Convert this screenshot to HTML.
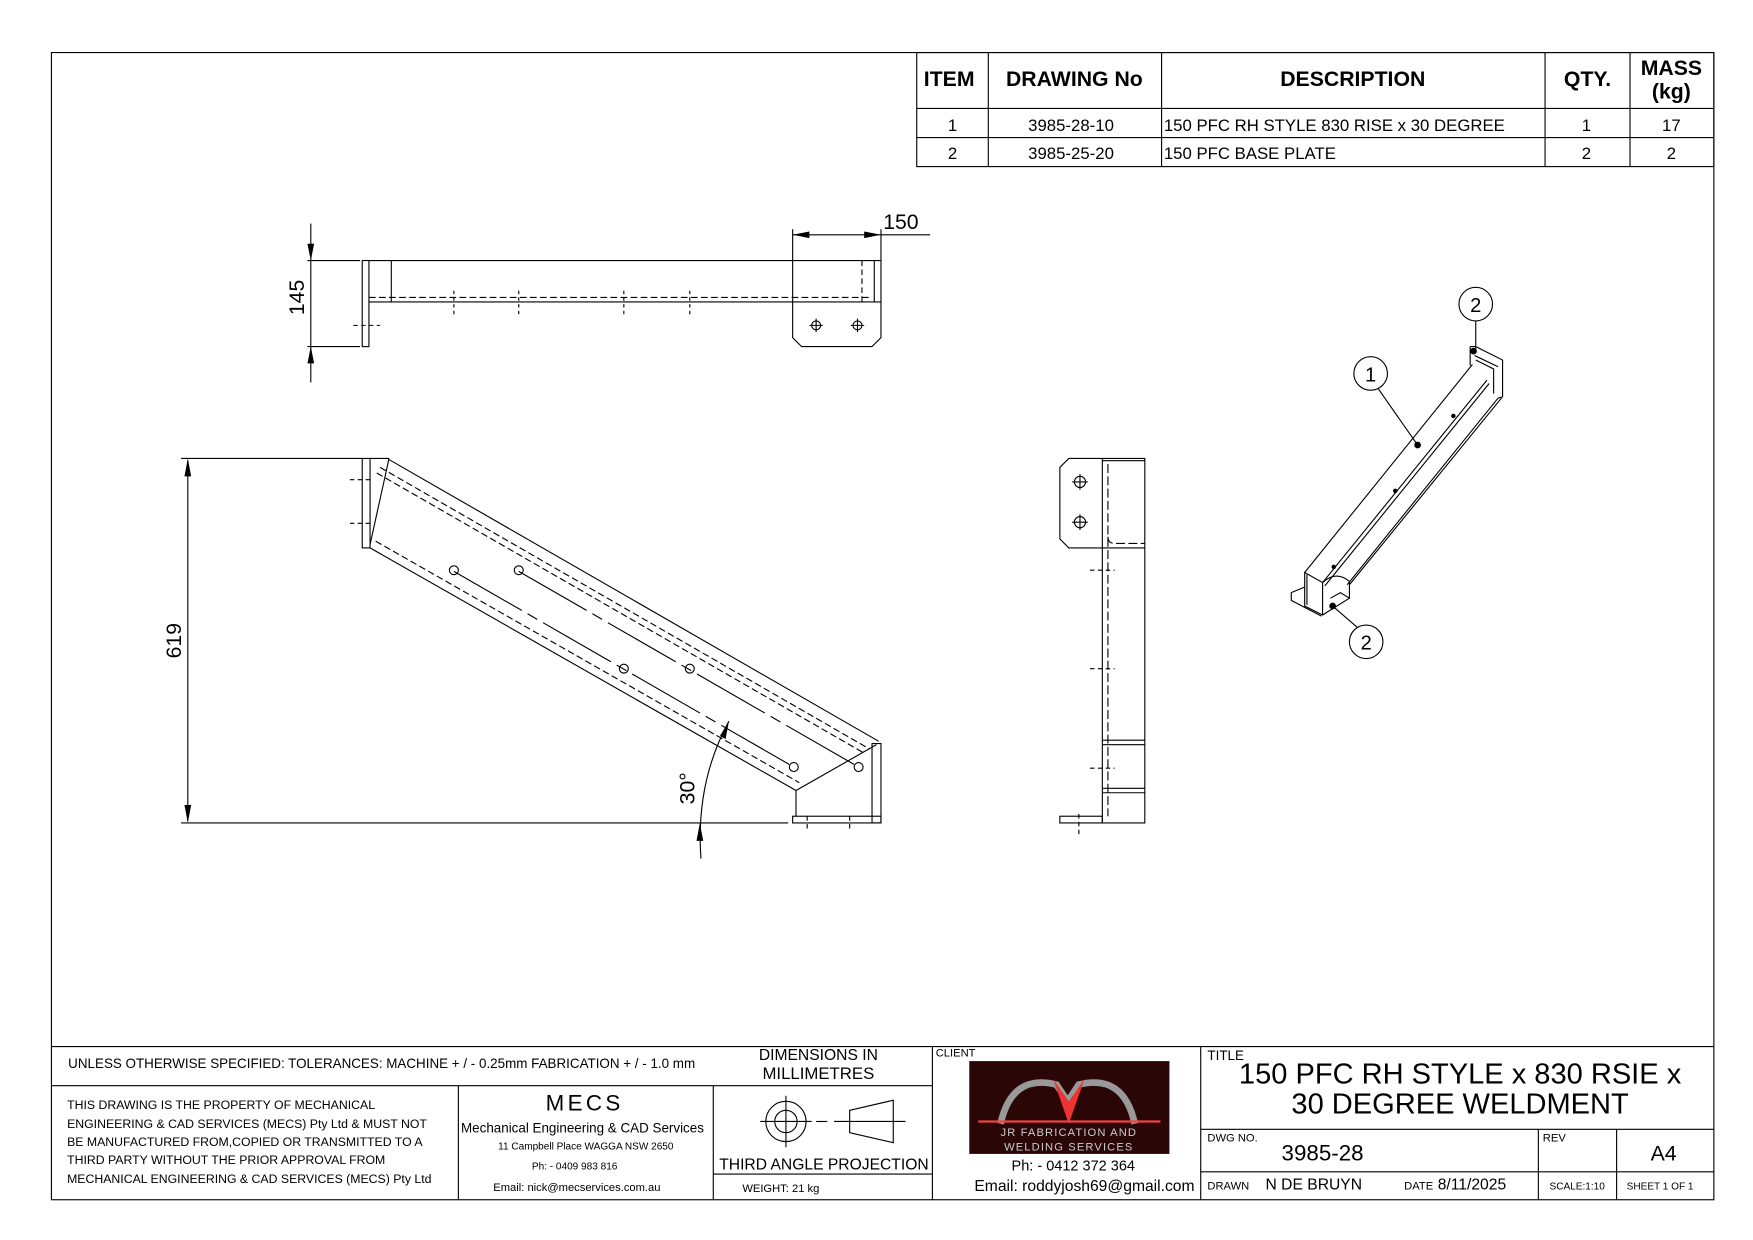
<!DOCTYPE html>
<html><head><style>html,body{margin:0;padding:0;background:#fff}svg{display:block}
text{font-family:"Liberation Sans",sans-serif}</style></head><body>
<svg width="1753" height="1240" viewBox="0 0 1568 1109" preserveAspectRatio="none" xmlns="http://www.w3.org/2000/svg">
<g fill="none" stroke="#000" stroke-width="1">
<rect x="46" y="47" width="1487" height="1026"/>
<rect x="820" y="47" width="713" height="102"/>
<line x1="820" y1="97" x2="1533" y2="97"/><line x1="820" y1="123" x2="1533" y2="123"/>
<line x1="884" y1="47" x2="884" y2="149"/><line x1="1039" y1="47" x2="1039" y2="149"/>
<line x1="1382" y1="47" x2="1382" y2="149"/><line x1="1458" y1="47" x2="1458" y2="149"/>
<line x1="46" y1="936" x2="1533" y2="936"/>
<line x1="46" y1="971" x2="834" y2="971"/>
<line x1="410" y1="971" x2="410" y2="1073"/>
<line x1="638" y1="971" x2="638" y2="1073"/>
<line x1="834" y1="936" x2="834" y2="1073"/>
<line x1="638" y1="1050" x2="834" y2="1050"/>
<line x1="1074" y1="936" x2="1074" y2="1073"/>
<line x1="1074" y1="1010" x2="1533" y2="1010"/>
<line x1="1074" y1="1048" x2="1533" y2="1048"/>
<line x1="1376" y1="1010" x2="1376" y2="1073"/>
<line x1="1446" y1="1010" x2="1446" y2="1073"/>
<circle cx="703" cy="1003" r="18"/><circle cx="703" cy="1003" r="10"/>
<line x1="680" y1="1003" x2="726" y2="1003"/><line x1="703" y1="980" x2="703" y2="1026"/>
<line x1="730" y1="1003" x2="740" y2="1003"/>
<polygon points="760,993 799,984 799,1022 760,1013"/><line x1="746" y1="1003" x2="810" y2="1003"/>

<rect x="324" y="233" width="6" height="77"/>
<line x1="330" y1="233" x2="788" y2="233"/><line x1="330" y1="270" x2="788" y2="270"/>
<line x1="350" y1="233" x2="350" y2="270"/>
<line x1="330" y1="266" x2="780" y2="266" stroke-dasharray="6,3"/>
<path d="M709 233 V302 L717 310 H780 L788 302 V233"/>
<line x1="782" y1="233" x2="782" y2="270"/>
<line x1="771" y1="233" x2="771" y2="270" stroke-dasharray="5,3"/>
<circle cx="730" cy="291" r="4"/><circle cx="767" cy="291" r="4"/>
<path d="M724 291h12M730 285v12M761 291h12M767 285v12"/>
<path d="M406 260v22M464 260v22M558 260v22M617 260v22" stroke-dasharray="3,3"/>
<path d="M316 291h24" stroke-dasharray="4,3"/>
<line x1="275" y1="233" x2="322" y2="233"/><line x1="275" y1="310" x2="322" y2="310"/>
<line x1="278" y1="200" x2="278" y2="342"/>
<line x1="709" y1="205" x2="709" y2="233"/><line x1="788" y1="205" x2="788" y2="233"/>
<line x1="709" y1="210" x2="832" y2="210"/>

<rect x="324" y="410" width="7" height="80"/>
<line x1="331" y1="410" x2="348" y2="410"/>
<line x1="348" y1="410" x2="331" y2="487"/>
<line x1="348" y1="411" x2="786" y2="663"/>
<line x1="340" y1="418" x2="778" y2="670" stroke-dasharray="6,3"/>
<line x1="337" y1="423" x2="772" y2="673" stroke-dasharray="6,3"/>
<line x1="331" y1="490" x2="712" y2="707"/>
<line x1="336" y1="484" x2="715" y2="700" stroke-dasharray="6,3"/>
<line x1="712" y1="707" x2="784" y2="666"/>
<line x1="406" y1="511" x2="710" y2="686" stroke-dasharray="70,6,10,6"/>
<line x1="464" y1="511" x2="768" y2="686" stroke-dasharray="70,6,10,6"/>
<circle cx="406" cy="510" r="4"/><circle cx="464" cy="510" r="4"/><circle cx="558" cy="598" r="4"/><circle cx="617" cy="598" r="4"/><circle cx="710" cy="686" r="4"/><circle cx="768" cy="686" r="4"/>
<rect x="780" y="665" width="8" height="71"/>
<line x1="712" y1="707" x2="712" y2="730"/>
<rect x="709" y="730" width="79" height="6"/>
<path d="M313 429h20M313 468h20M722 730v14M760 730v14" stroke-dasharray="4,3"/>
<line x1="162" y1="410" x2="324" y2="410"/><line x1="162" y1="736" x2="705" y2="736"/>
<line x1="168" y1="412" x2="168" y2="734"/>
<path d="M627 768 Q622 700 652 645"/>

<path d="M986 410 H956 L948 418 V482 L956 490 H986"/>
<rect x="986" y="410" width="38" height="326"/>
<line x1="986" y1="412" x2="1024" y2="412"/>
<line x1="991" y1="415" x2="991" y2="730" stroke-dasharray="8,3"/>
<path d="M991 480 Q991 486 997 486 H1024" stroke-dasharray="8,3"/>
<line x1="986" y1="490" x2="1024" y2="490"/>
<line x1="986" y1="662" x2="1024" y2="662"/><line x1="986" y1="666" x2="1024" y2="666"/>
<line x1="986" y1="705" x2="1024" y2="705"/><line x1="986" y1="709" x2="1024" y2="709"/>
<rect x="948" y="730" width="38" height="6"/>
<circle cx="966" cy="431" r="5"/><circle cx="966" cy="467" r="5"/>
<path d="M959 431h14M966 424v14M959 467h14M966 460v14"/>
<path d="M975 510h22M975 598h22M975 687h22M965 728v18" stroke-dasharray="4,3"/>

<!-- ISO -->
<path d="M1315 310 V327 M1315 310 L1320 310 L1344 322 V355 L1340 356"/>
<path d="M1319 318 L1340 328 M1320 322 L1336 330 V352"/>
<path d="M1317 326 L1167 512"/>
<path d="M1330 340 L1183 521 M1332 343 L1185 524"/>
<path d="M1343 356 L1207 523 M1340 356 L1205 523"/>
<path d="M1167 512 L1183 521 L1183 550 L1167 542 Z"/>
<path d="M1169 514 L1169 541"/>
<path d="M1183 521 Q1195 510 1207 520 L1207 535 L1183 550"/>
<path d="M1190 535 L1199 530 L1207 535"/>
<path d="M1167 525 L1155 530 V537 L1182 551"/>
<circle cx="1318" cy="314" r="2.5" fill="#000"/><circle cx="1268" cy="398" r="2.5" fill="#000"/>
<circle cx="1192" cy="542" r="2.5" fill="#000"/>
<circle cx="1248" cy="439" r="1.5" fill="#000"/><circle cx="1300" cy="372" r="1.5" fill="#000"/><circle cx="1193" cy="507" r="1.5" fill="#000"/>
<circle cx="1320" cy="272" r="15"/><line x1="1320" y1="287" x2="1320" y2="312"/>
<circle cx="1226" cy="334" r="15"/><line x1="1233" y1="348" x2="1268" y2="398"/>
<circle cx="1222" cy="574" r="15"/><line x1="1214" y1="561" x2="1192" y2="542"/>
</g>
<g fill="#000">
<polygon points="278,233 275,218 281,218"/><polygon points="278,310 275,325 281,325"/>
<polygon points="709,210 724,207 724,213"/><polygon points="788,210 773,207 773,213"/>
<polygon points="168,410 165,426 171,426"/><polygon points="168,736 165,720 171,720"/>
<polygon points="652,645 644,658 649,661"/><polygon points="626,736 623,752 629,752"/>
</g>
<rect x="867" y="949" width="179" height="83" fill="#2a0606"/>
<path d="M895 1005 Q905 960 945 970 L955 985 L965 970 Q1005 960 1015 1005" fill="none" stroke="#999" stroke-width="6"/>
<polygon points="942,965 956,1005 970,965 956,985" fill="#e33"/>
<line x1="875" y1="1003" x2="1038" y2="1003" stroke="#e44" stroke-width="2"/>
<g font-size="10" style="letter-spacing:1px;fill:#ccc">
<text x="956" y="1016" text-anchor="middle" style="fill:#ccc">JR FABRICATION AND</text>
<text x="956" y="1029" text-anchor="middle" style="fill:#ccc">WELDING SERVICES</text></g>
<g font-size="19" font-weight="bold" text-anchor="middle">
<text x="849" y="77">ITEM</text><text x="961" y="77">DRAWING No</text><text x="1210" y="77">DESCRIPTION</text><text x="1420" y="77">QTY.</text>
<text x="1495" y="67">MASS</text><text x="1495" y="88">(kg)</text></g>
<g font-size="15" text-anchor="middle">
<text x="852" y="117">1</text><text x="958" y="117">3985-28-10</text><text x="1419" y="117">1</text><text x="1495" y="117">17</text>
<text x="852" y="142">2</text><text x="958" y="142">3985-25-20</text><text x="1419" y="142">2</text><text x="1495" y="142">2</text></g>
<g font-size="15"><text x="1041" y="117">150 PFC RH STYLE 830 RISE x 30 DEGREE</text><text x="1041" y="142">150 PFC BASE PLATE</text></g>
<text x="790" y="205" font-size="19">150</text>
<text transform="translate(272,266) rotate(-90)" font-size="19" text-anchor="middle">145</text>
<text transform="translate(162,573) rotate(-90)" font-size="19" text-anchor="middle">619</text>
<text transform="translate(621,705) rotate(-90)" font-size="19" text-anchor="middle">30°</text>
<g font-size="18" text-anchor="middle"><text x="1320" y="279">2</text><text x="1226" y="341">1</text><text x="1222" y="581">2</text></g>
<text x="61" y="955" font-size="12">UNLESS OTHERWISE SPECIFIED: TOLERANCES: MACHINE + / - 0.25mm  FABRICATION + / - 1.0 mm</text>
<text x="732" y="948" font-size="14" text-anchor="middle">DIMENSIONS IN</text>
<text x="732" y="965" font-size="15" text-anchor="middle">MILLIMETRES</text>
<g font-size="11"><text x="60" y="992">THIS DRAWING IS THE PROPERTY OF MECHANICAL</text>
<text x="60" y="1009">ENGINEERING &amp; CAD SERVICES (MECS) Pty Ltd &amp; MUST NOT</text>
<text x="60" y="1025">BE MANUFACTURED FROM,COPIED OR TRANSMITTED TO A</text>
<text x="60" y="1041">THIRD PARTY WITHOUT THE PRIOR APPROVAL FROM</text>
<text x="60" y="1058">MECHANICAL ENGINEERING &amp; CAD SERVICES (MECS) Pty Ltd</text></g>
<g text-anchor="middle"><text x="523" y="993" font-size="20" style="letter-spacing:3px">MECS</text>
<text x="521" y="1013" font-size="12">Mechanical Engineering &amp; CAD Services</text>
<text x="524" y="1028" font-size="9">11 Campbell Place WAGGA NSW 2650</text>
<text x="514" y="1046" font-size="9">Ph: - 0409 983 816</text>
<text x="516" y="1065" font-size="10">Email: nick@mecservices.com.au</text>
<text x="737" y="1046" font-size="14">THIRD ANGLE PROJECTION</text>
<text x="960" y="1047" font-size="13">Ph: - 0412 372 364</text>
<text x="970" y="1065" font-size="14">Email: roddyjosh69@gmail.com</text>
<text x="1306" y="969" font-size="26">150 PFC RH STYLE x 830 RSIE x</text>
<text x="1306" y="996" font-size="26">30 DEGREE WELDMENT</text>
<text x="1183" y="1038" font-size="20">3985-28</text>
<text x="1488" y="1038" font-size="19">A4</text></g>
<text x="664" y="1066" font-size="10">WEIGHT: 21 kg</text>
<text x="837" y="945" font-size="10">CLIENT</text>
<text x="1080" y="948" font-size="12">TITLE</text>
<text x="1080" y="1021" font-size="10">DWG NO.</text>
<text x="1380" y="1021" font-size="10">REV</text>
<text x="1080" y="1064" font-size="10">DRAWN</text>
<text x="1132" y="1064" font-size="14">N DE BRUYN</text>
<text x="1256" y="1064" font-size="10">DATE</text><text x="1286" y="1064" font-size="14">8/11/2025</text>
<text x="1386" y="1064" font-size="9">SCALE:1:10</text>
<text x="1455" y="1064" font-size="9">SHEET 1 OF 1</text>
</svg></body></html>
